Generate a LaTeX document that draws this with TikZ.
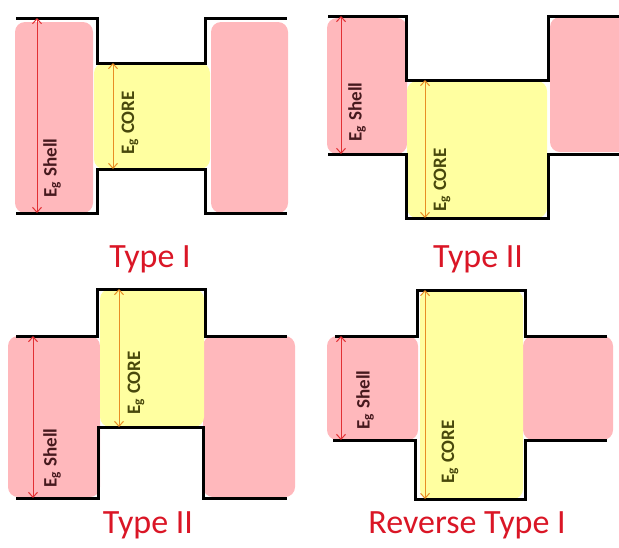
\documentclass[tikz,border=0pt]{standalone}
\usepackage{fontspec}
\setmainfont{Carlito}
\usetikzlibrary{arrows.meta}
\definecolor{shellpink}{RGB}{255,184,188}
\definecolor{coreyellow}{RGB}{255,255,160}
\definecolor{titlered}{RGB}{218,22,38}
\definecolor{shellarrow}{RGB}{226,48,52}
\definecolor{corearrow}{RGB}{232,142,36}
\definecolor{shellink}{RGB}{70,25,30}
\definecolor{coreink}{RGB}{72,72,12}
\tikzset{
  band/.style={line width=1.5pt, line join=miter, black},
  shellbox/.style={fill=shellpink, rounded corners=5pt},
  corebox/.style={fill=coreyellow, rounded corners=5pt},
  shellgap/.style={shellarrow, line width=0.5pt, {Straight Barb[length=2.5pt,width=4.5pt]}-{Straight Barb[length=2.5pt,width=4.5pt]}},
  coregap/.style={corearrow, line width=0.5pt, {Straight Barb[length=2.5pt,width=4.5pt]}-{Straight Barb[length=2.5pt,width=4.5pt]}},
  shelltxt/.style={rotate=90, text=shellink, font=\bfseries\fontsize{9.5}{11}\selectfont, inner sep=0pt},
  coretxt/.style={rotate=90, text=coreink, font=\bfseries\fontsize{9.5}{11}\selectfont, inner sep=0pt},
  title/.style={text=titlered, anchor=base, font=\fontsize{17}{20}\selectfont, inner sep=0pt}
}
\begin{document}
\begin{tikzpicture}[x=0.5pt,y=-0.5pt]
\useasboundingbox (0,0) rectangle (619,547);
\clip (0,0) rectangle (619,547);

% ---------- Type I (core gap inside shell gap) ----------
\fill[shellbox] (15,22) rectangle (93,213);
\fill[shellbox] (211,22) rectangle (288,213);
\fill[corebox] (94,63) rectangle (210,169);
\draw[band] (16,18) -- (97,18) -- (97,63) -- (205,63) -- (205,18) -- (287,18);
\draw[band] (16,213) -- (97,213) -- (97,169) -- (205,169) -- (205,213) -- (287,213);
\coordinate (a1s) at (37,18);  \coordinate (a1e) at (37,213);
\coordinate (a1c) at (113,63); \coordinate (a1d) at (113,169);
\draw[shellgap] (a1s) -- (a1e);
\draw[coregap] (a1c) -- (a1d);
\node[shelltxt] (a1shell) at (52,168) {E\textsubscript{g} Shell};
\node[coretxt] (a1core) at (130,123) {E\textsubscript{g} CORE};
\node[title] (a1title) at (150,267) {Type I};

% ---------- Type II (core shifted down) ----------
\fill[shellbox] (327,18) rectangle (407,154);
\fill[shellbox] (550,17) rectangle (650,152);
\fill[corebox] (407,81) rectangle (547,218);
\draw[band] (328,16) -- (406,16) -- (406,80) -- (548,80) -- (548,16) -- (625,16);
\draw[band] (328,154) -- (406,154) -- (406,218) -- (548,218) -- (548,154) -- (625,154);
\coordinate (b1s) at (341,16);  \coordinate (b1e) at (341,154);
\coordinate (b1c) at (425,80);  \coordinate (b1d) at (425,218);
\draw[shellgap] (b1s) -- (b1e);
\draw[coregap] (b1c) -- (b1d);
\node[shelltxt] (b1shell) at (357,112) {E\textsubscript{g} Shell};
\node[coretxt] (b1core) at (442,180) {E\textsubscript{g} CORE};
\node[title] (b1title) at (478,267) {Type II};

% ---------- Type II (core shifted up) ----------
\fill[shellbox] (8,336) rectangle (100,497);
\fill[shellbox] (203,336) rectangle (295,497);
\fill[corebox] (100,289) rectangle (204,427);
\draw[band] (16,336) -- (97,336) -- (97,289) -- (205,289) -- (205,336) -- (287,336);
\draw[band] (16,498) -- (98,498) -- (98,427) -- (203,427) -- (203,498) -- (287,498);
\coordinate (c1s) at (33,336);  \coordinate (c1e) at (33,498);
\coordinate (c1c) at (119,289); \coordinate (c1d) at (119,427);
\draw[shellgap] (c1s) -- (c1e);
\draw[coregap] (c1c) -- (c1d);
\node[shelltxt] (c1shell) at (52,458) {E\textsubscript{g} Shell};
\node[coretxt] (c1core) at (136,383) {E\textsubscript{g} CORE};
\node[title] (c1title) at (148,533) {Type II};

% ---------- Reverse Type I (shell gap inside core gap) ----------
\fill[shellbox] (327,336) rectangle (418,440);
\fill[shellbox] (523,336) rectangle (613,440);
\fill[corebox] (420,290) rectangle (523,499);
\draw[band] (335,336) -- (417,336) -- (417,290) -- (525,290) -- (525,336) -- (607,336);
\draw[band] (333,440) -- (415,440) -- (415,499) -- (525,499) -- (525,440) -- (607,440);
\coordinate (d1s) at (341,336); \coordinate (d1e) at (341,440);
\coordinate (d1c) at (425,290); \coordinate (d1d) at (425,499);
\draw[shellgap] (d1s) -- (d1e);
\draw[coregap] (d1c) -- (d1d);
\node[shelltxt] (d1shell) at (365,400) {E\textsubscript{g} Shell};
\node[coretxt] (d1core) at (450,452) {E\textsubscript{g} CORE};
\node[title] (d1title) at (467,533) {Reverse Type I};
\end{tikzpicture}
\end{document}
